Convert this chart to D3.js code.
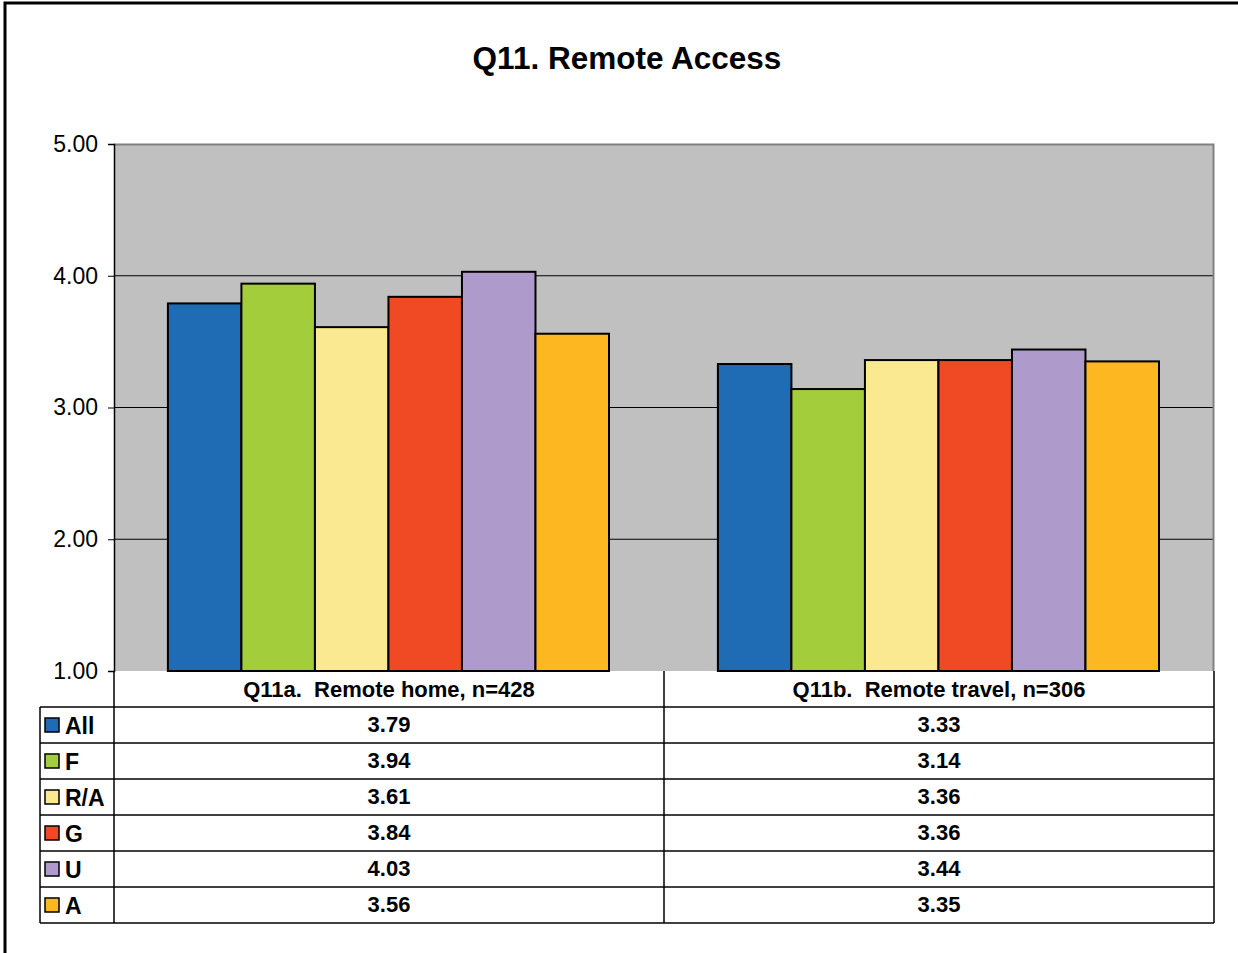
<!DOCTYPE html>
<html>
<head>
<meta charset="utf-8">
<script src="https://cdn.jsdelivr.net/npm/d3@7"></script>
<style>
  body { margin: 0; background: #fff; }
  svg { display: block; font-family: Arial, "Liberation Sans", sans-serif; }
  text { white-space: pre; }
</style>
</head>
<body>
<div id="chart"></div>
<script>
// chart data
const categories = ["Q11a.  Remote home, n=428", "Q11b.  Remote travel, n=306"];
const seriesNames = ["All", "F", "R/A", "G", "U", "A"];
const seriesColors = ["#1f6bb4", "#a4cd3b", "#fbe991", "#f04a24", "#ae9bcb", "#fcb721"];
const valuesAll = [3.79, 3.33];
const valuesF = [3.94, 3.14];
const valuesRA = [3.61, 3.36];
const valuesG = [3.84, 3.36];
const valuesU = [4.03, 3.44];
const valuesA = [3.56, 3.35];
const yTicks = [1, 2, 3, 4, 5];

(function () {
    const width = 1238, height = 953;
    const values = [valuesAll, valuesF, valuesRA, valuesG, valuesU, valuesA];

    const svg = d3.select("#chart").append("svg")
        .attr("width", width)
        .attr("height", height);

    // outer frame (only top and left visible)
    svg.append("rect")
        .attr("x", 5).attr("y", 3)
        .attr("width", width + 20).attr("height", height + 20)
        .attr("fill", "none").attr("stroke", "#000").attr("stroke-width", 3);

    svg.append("text")
        .attr("x", 627).attr("y", 69)
        .attr("text-anchor", "middle")
        .attr("font-size", 31.5).attr("font-weight", "bold")
        .text("Q11. Remote Access");

    const plot = { left: 114, right: 1214, top: 144, bottom: 671 };

    const x = d3.scaleBand()
        .domain(categories)
        .range([plot.left, plot.right])
        .paddingInner(0).paddingOuter(0);

    const xs = d3.scaleBand()
        .domain(seriesNames)
        .range([x.bandwidth() * 0.098, x.bandwidth() * 0.9]);

    const y = d3.scaleLinear()
        .domain([1, 5])
        .range([plot.bottom, plot.top]);

    // plot background
    svg.append("rect")
        .attr("x", plot.left).attr("y", plot.top)
        .attr("width", plot.right - plot.left)
        .attr("height", plot.bottom - plot.top)
        .attr("fill", "#c0c0c0");

    // gridlines
    svg.append("g").selectAll("line")
        .data(yTicks.filter(t => t > 1 && t < 5))
        .enter().append("line")
        .attr("x1", plot.left).attr("x2", plot.right)
        .attr("y1", d => y(d)).attr("y2", d => y(d))
        .attr("stroke", "#000").attr("stroke-width", 1);

    // top and right borders of plot
    svg.append("path")
        .attr("d", `M${plot.left},${plot.top + 0.5}H${plot.right - 0.5}V${plot.bottom}`)
        .attr("fill", "none").attr("stroke", "#808080").attr("stroke-width", 2);

    // bars
    const groups = svg.append("g").selectAll("g")
        .data(categories)
        .enter().append("g")
        .attr("transform", d => `translate(${x(d)},0)`);

    groups.selectAll("rect")
        .data((c, ci) => seriesNames.map((s, si) => ({ s, si, v: values[si][ci] })))
        .enter().append("rect")
        .attr("x", d => xs(d.s))
        .attr("width", xs.bandwidth())
        .attr("y", d => y(d.v))
        .attr("height", d => y(1) - y(d.v))
        .attr("fill", d => seriesColors[d.si])
        .attr("stroke", "#000").attr("stroke-width", 2);

    // y axis
    const yAxis = svg.append("g")
        .attr("transform", `translate(${plot.left},0)`)
        .call(d3.axisLeft(y).tickValues(yTicks).tickFormat(d3.format(".2f")).tickSize(6).tickPadding(10));
    yAxis.select(".domain").attr("stroke", "#000").attr("stroke-width", 1.5);
    yAxis.selectAll(".tick line").attr("stroke", "#000");
    yAxis.selectAll("text")
        .attr("font-size", 23).attr("font-family", "Arial, 'Liberation Sans', sans-serif")
        .attr("fill", "#000");

    // data table
    const rowH = 36;
    const tableTop = plot.bottom;
    const tableLeft = 40;
    const lineColor = "#000";
    const table = svg.append("g");

    // header row (category names)
    table.selectAll("text.cat")
        .data(categories)
        .enter().append("text")
        .attr("class", "cat")
        .attr("x", d => x(d) + x.bandwidth() / 2)
        .attr("y", tableTop + rowH / 2 + 8)
        .attr("text-anchor", "middle")
        .attr("font-size", 22).attr("font-weight", "bold")
        .text(d => d);

    // horizontal lines
    const hLines = d3.range(1, seriesNames.length + 2);
    table.selectAll("line.h")
        .data(hLines)
        .enter().append("line")
        .attr("x1", tableLeft).attr("x2", plot.right)
        .attr("y1", d => tableTop + d * rowH).attr("y2", d => tableTop + d * rowH)
        .attr("stroke", lineColor).attr("stroke-width", 1.5);

    // vertical lines
    const bottom = tableTop + (seriesNames.length + 1) * rowH;
    const vLines = [
        { x: tableLeft, y1: tableTop + rowH },
        { x: plot.left, y1: tableTop },
        { x: x(categories[1]), y1: tableTop },
        { x: plot.right, y1: tableTop }
    ];
    table.selectAll("line.v")
        .data(vLines)
        .enter().append("line")
        .attr("x1", d => d.x).attr("x2", d => d.x)
        .attr("y1", d => d.y1).attr("y2", bottom)
        .attr("stroke", lineColor).attr("stroke-width", 1.5);

    // rows: legend key + values
    const rows = table.selectAll("g.row")
        .data(seriesNames)
        .enter().append("g")
        .attr("transform", (d, i) => `translate(0,${tableTop + (i + 1) * rowH})`);

    rows.append("rect")
        .attr("x", 45).attr("y", rowH / 2 - 7)
        .attr("width", 14).attr("height", 14)
        .attr("fill", (d, i) => seriesColors[i])
        .attr("stroke", "#000").attr("stroke-width", 1.5);

    rows.append("text")
        .attr("x", 65).attr("y", rowH / 2 + 9)
        .attr("font-size", 23).attr("font-weight", "bold")
        .text(d => d);

    rows.each(function (s, si) {
        d3.select(this).selectAll("text.val")
            .data(categories)
            .enter().append("text")
            .attr("class", "val")
            .attr("x", c => x(c) + x.bandwidth() / 2)
            .attr("y", rowH / 2 + 7)
            .attr("text-anchor", "middle")
            .attr("font-size", 22).attr("font-weight", "bold")
            .text((c, ci) => values[si][ci].toFixed(2));
    });
})();
</script>
</body>
</html>
